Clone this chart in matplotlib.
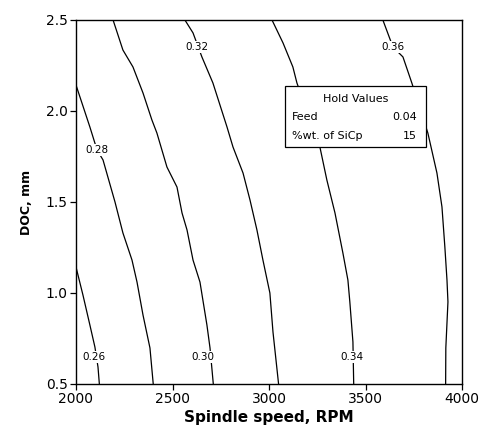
"""Contour plot of surface roughness vs spindle speed and DOC."""

import matplotlib
matplotlib.use("Agg")
import matplotlib.pyplot as plt

# contour levels and the traced points of each line (rpm, doc)
levels = [0.26, 0.28, 0.30, 0.32, 0.34, 0.36]

rpm_026 = [2000, 2036, 2072, 2098, 2114, 2121]
doc_026 = [1.143, 0.989, 0.824, 0.703, 0.593, 0.5]

rpm_028 = [2000, 2072, 2109, 2140, 2202, 2243, 2290, 2316, 2347, 2383, 2400]
doc_028 = [2.143, 1.912, 1.786, 1.731, 1.500, 1.330, 1.181, 1.060, 0.879,
           0.698, 0.5]

rpm_030 = [2192, 2243, 2295, 2347, 2393, 2419, 2471, 2523, 2549, 2575, 2606,
           2642, 2678, 2694, 2711]
doc_030 = [2.5, 2.335, 2.242, 2.099, 1.951, 1.879, 1.692, 1.582, 1.440, 1.346,
           1.181, 1.060, 0.824, 0.698, 0.5]

rpm_032 = [2564, 2606, 2652, 2709, 2782, 2813, 2865, 2901, 2937, 2968, 3004,
           3020, 3049]
doc_032 = [2.5, 2.429, 2.297, 2.154, 1.912, 1.802, 1.659, 1.511, 1.346, 1.181,
           1.000, 0.786, 0.5]

rpm_034 = [3015, 3072, 3123, 3144, 3263, 3299, 3341, 3382, 3408, 3418, 3434,
           3438]
doc_034 = [2.5, 2.374, 2.242, 2.154, 1.802, 1.621, 1.440, 1.220, 1.071, 0.951,
           0.731, 0.5]

rpm_036 = [3589, 3641, 3693, 3739, 3822, 3869, 3895, 3910, 3921, 3926, 3915,
           3914]
doc_036 = [2.5, 2.352, 2.297, 2.154, 1.879, 1.659, 1.473, 1.253, 1.071, 0.951,
           0.698, 0.5]

# where each level label sits
label_rpm = [2093, 2109, 2657, 2626, 3429, 3641]
label_doc = [0.648, 1.786, 0.648, 2.352, 0.648, 2.352]

x_ticks = [2000, 2500, 3000, 3500, 4000]
y_ticks = [0.5, 1.0, 1.5, 2.0, 2.5]

hold_names = ["Feed", "%wt. of SiCp"]
hold_values = ["0.04", "15"]

lines = [(rpm_026, doc_026), (rpm_028, doc_028), (rpm_030, doc_030),
         (rpm_032, doc_032), (rpm_034, doc_034), (rpm_036, doc_036)]

plt.rcParams['font.family'] = ['DejaVu Sans']

fig = plt.figure(figsize=(4.8, 4.3), dpi=100)
ax = fig.add_axes([0.1583, 0.107, 0.8047, 0.8465])

for (xs, ys) in lines:
    ax.plot(xs, ys, color='black', lw=0.9)

for lev, lx, ly in zip(levels, label_rpm, label_doc):
    ax.text(lx, ly, f"{lev:.2f}", fontsize=7.5, ha='center', va='center',
            bbox=dict(fc='white', ec='none', pad=0.8), zorder=4)

ax.set_xlim(2000, 4000)
ax.set_ylim(0.5, 2.5)
ax.set_xticks(x_ticks)
ax.set_yticks(y_ticks)
ax.set_yticklabels([f"{v:.1f}" for v in y_ticks])
ax.tick_params(direction='out', length=4.5, width=0.9, labelsize=10,
               pad=1.5, color='black')
for s in ax.spines.values():
    s.set_linewidth(1.0)

ax.set_xlabel("Spindle speed, RPM", fontsize=11, fontweight='bold',
              labelpad=3)
ax.set_ylabel("DOC, mm", fontsize=9, fontweight='bold', labelpad=9)

# hold values box
bx0, by0, bw, bh = 0.541, 0.652, 0.366, 0.168
ax.add_patch(plt.Rectangle((bx0, by0), bw, bh, transform=ax.transAxes,
                           fc='white', ec='black', lw=0.9, zorder=5))
ax.text(bx0 + bw / 2, by0 + bh - 0.037, "Hold Values", transform=ax.transAxes,
        fontsize=8, ha='center', va='center', zorder=6)
for i, (name, val) in enumerate(zip(hold_names, hold_values)):
    yy = by0 + bh - 0.086 - i * 0.054
    ax.text(bx0 + 0.017, yy, name, transform=ax.transAxes, fontsize=8,
            ha='left', va='center', zorder=6)
    ax.text(bx0 + bw - 0.025, yy, val, transform=ax.transAxes, fontsize=8,
            ha='right', va='center', zorder=6)

fig.savefig("out.png", dpi=100)
